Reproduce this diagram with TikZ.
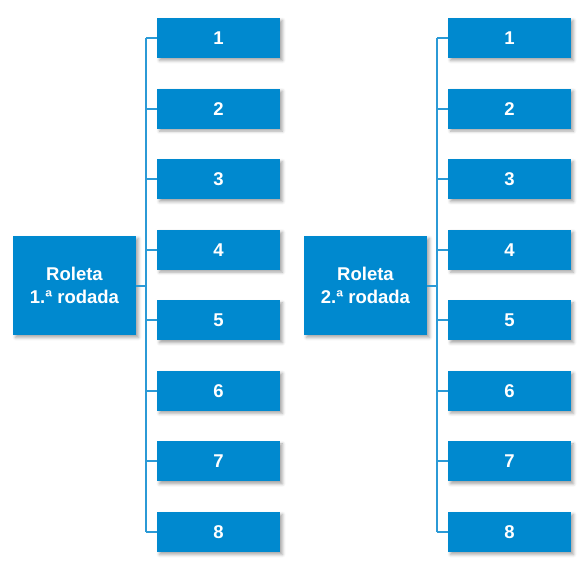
\documentclass[tikz,border=0pt]{standalone}
\usepackage{fontspec}
\setmainfont{Liberation Sans}
\usetikzlibrary{shadows.blur}
\definecolor{boxblue}{HTML}{0089CF}
\definecolor{lineblue}{HTML}{2B9AD6}
\begin{document}
\begin{tikzpicture}[x=1pt,y=-1pt,
  numbox/.style={fill=boxblue, minimum width=123pt, minimum height=40pt, inner sep=0pt,
    text=white, font=\bfseries\fontsize{18.5}{22}\selectfont,
    blur shadow={shadow xshift=2.5pt, shadow yshift=-2.5pt, shadow blur radius=3pt, shadow opacity=35}},
  mainbox/.style={fill=boxblue, minimum width=123pt, minimum height=99pt, inner sep=0pt,
    text=white, align=center, font=\bfseries\fontsize{18.5}{23.5}\selectfont,
    blur shadow={shadow xshift=2.5pt, shadow yshift=-2.5pt, shadow blur radius=3pt, shadow opacity=35}},
  conn/.style={draw=lineblue, line width=2pt}]
\useasboundingbox (0,0) rectangle (584,568);
\coordinate (v1) at (146,0);
\coordinate (v2) at (437,0);
\node[mainbox] (m1) at (74.5,285.5) {Roleta\\1.ª rodada};
\node[mainbox] (m2) at (365.5,285.5) {Roleta\\2.ª rodada};
\foreach \i in {1,...,8}{
  \node[numbox] (a\i) at (218.5,{38+70.57*(\i-1)}) {\i};
  \node[numbox] (b\i) at (509.5,{38+70.57*(\i-1)}) {\i};
}
\draw[conn] (a1.west -| v1) -- (a8.west -| v1);
\draw[conn] (b1.west -| v2) -- (b8.west -| v2);
\foreach \i in {1,...,8}{
  \draw[conn] (a\i.west) -- (a\i.west -| v1);
  \draw[conn] (b\i.west) -- (b\i.west -| v2);
}
\draw[conn] (m1.east) -- (m1.east -| v1);
\draw[conn] (m2.east) -- (m2.east -| v2);
\end{tikzpicture}
\end{document}
